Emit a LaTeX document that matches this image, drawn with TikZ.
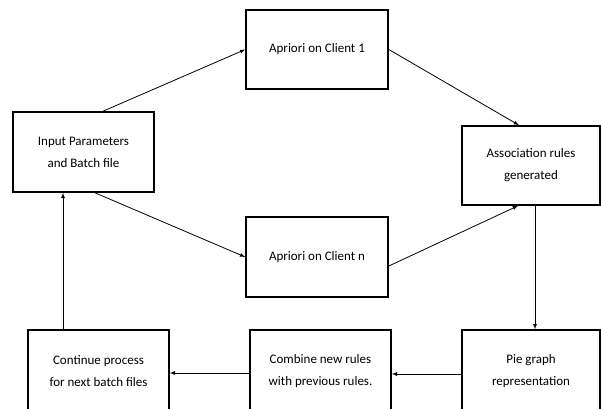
\documentclass[tikz,border=0pt]{standalone}
\usepackage{fontspec}
\setmainfont{Carlito}
\usetikzlibrary{arrows}

\begin{document}
\begin{tikzpicture}[x=1pt,y=-1pt,>=latex,thin,main node/.style={rectangle,draw,line width=1.6pt,inner sep=0pt,align=center,font=\fontsize{13}{22}\selectfont}]

			\useasboundingbox (0,0) rectangle (601,408);

			\node[main node,minimum width=141pt,minimum height=80pt] (1) at (83.5,152) {Input Parameters\\and Batch file};
			\node[main node,minimum width=142pt,minimum height=79pt] (2) at (317,49.5) {Apriori on Client 1};
			\node[main node,minimum width=142pt,minimum height=80pt] (3) at (317,257) {Apriori on Client n};
			\node[main node,minimum width=138pt,minimum height=79pt] (4) at (531,165.5) {Association rules\\generated};
			\node[main node,minimum width=138pt,minimum height=82pt] (5) at (531,371) {Pie graph\\representation};
			\node[main node,minimum width=141pt,minimum height=82pt] (6) at (320.5,371) {Combine new rules\\with previous rules.};
			\node[main node,minimum width=141pt,minimum height=82pt] (7) at (98.5,371) {Continue process\\for next batch files};

			\path[->,line width=0.8pt]
			([xshift=19.5]1.north) edge (2.west)
			([xshift=11.5]1.south) edge (3.west)
			(2.east) edge ([xshift=-12]4.north)
			([yshift=-9]3.east) edge ([xshift=-13]4.south)
			([xshift=4]4.south) edge ([xshift=4]5.north)
			([yshift=-3]5.west) edge ([yshift=-3]6.east)
			([yshift=-2]6.west) edge ([yshift=-2]7.east)
			([xshift=-35.5]7.north) edge ([xshift=-20.5]1.south);
		\end{tikzpicture}
\end{document}
